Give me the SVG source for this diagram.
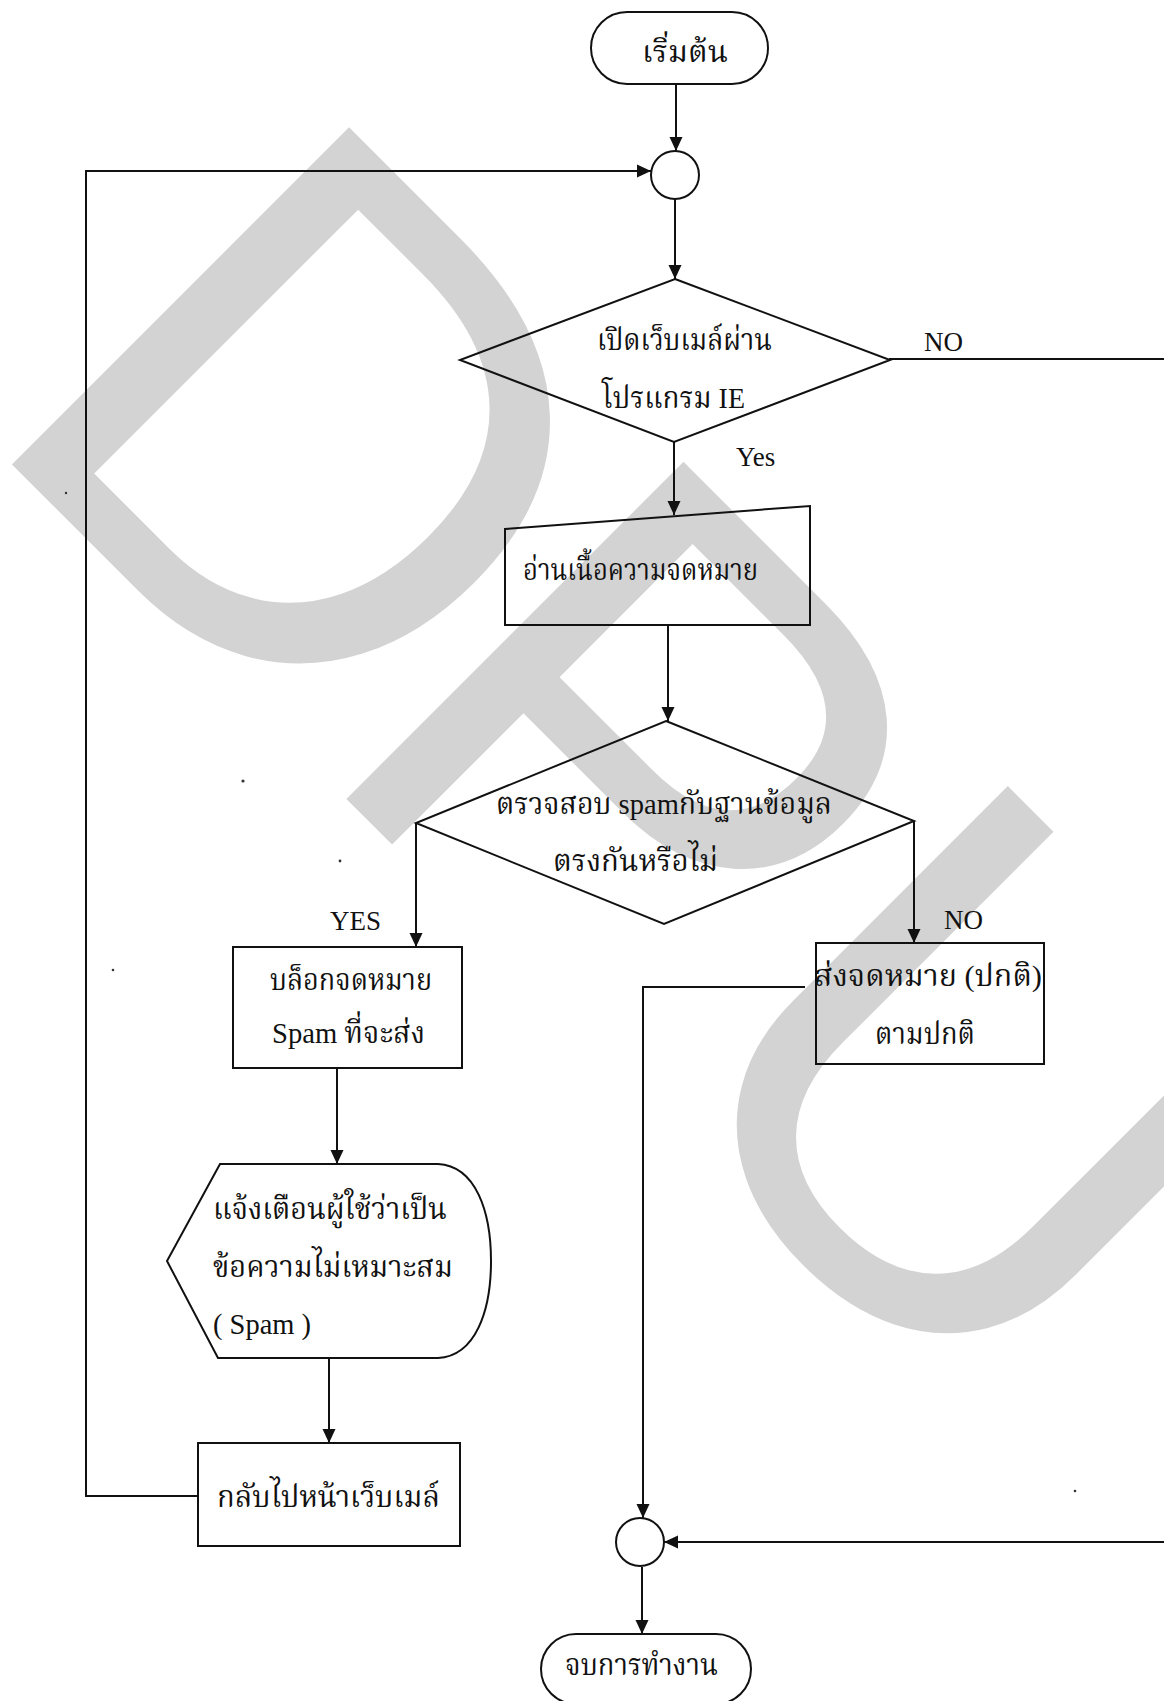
<svg xmlns="http://www.w3.org/2000/svg" width="1164" height="1701" viewBox="0 0 1164 1701">
  <defs>
    <marker id="arrow" markerUnits="userSpaceOnUse" markerWidth="14" markerHeight="14" refX="14" refY="7" orient="auto">
      <path d="M0,0.5 L14,7 L0,13.5 Z" fill="#111"/>
    </marker>
    <style>
      .shape { fill: none; stroke: #111; stroke-width: 2; }
      .link { fill: none; stroke: #111; stroke-width: 2; marker-end: url(#arrow); }
      .line { fill: none; stroke: #111; stroke-width: 2; }
      .th { font-family: "Liberation Serif", "Noto Serif Thai", "Noto Sans Thai", serif; font-size: 30px; fill: #111; }
      .lbl { font-family: "Liberation Serif", serif; font-size: 27px; fill: #111; }
      .speck { fill: #333; }
    </style>
  </defs>
  <rect width="1164" height="1701" fill="#fff"/>

  <!-- background watermark -->
  <g id="watermark">
    <text x="280 753 1215" y="320" transform="rotate(45)" font-family="Liberation Sans, Arial, sans-serif" font-size="693" fill="#d3d3d3">DPU</text>
  </g>

  <!-- stray specks -->
  <g id="specks">
    <circle class="speck" cx="243" cy="781" r="1.6"/>
    <circle class="speck" cx="340" cy="861" r="1.4"/>
    <circle class="speck" cx="113" cy="970" r="1.3"/>
    <circle class="speck" cx="66" cy="493" r="1.2"/>
    <circle class="speck" cx="1075" cy="1491" r="1.3"/>
  </g>

  <!-- connectors -->
  <g id="connectors">
    <path class="link" d="M676,84 L676,151"/>
    <path class="link" d="M675,199 L675,279"/>
    <path class="link" d="M674,442 L674,515"/>
    <path class="link" d="M668,625 L668,721"/>
    <path class="link" d="M416,823 L416,947"/>
    <path class="link" d="M914,821 L914,943"/>
    <path class="link" d="M337,1068 L337,1164"/>
    <path class="link" d="M329,1358 L329,1443"/>
    <path class="link" d="M197,1496 L86,1496 L86,171 L651,171"/>
    <path class="link" d="M805,987 L643,987 L643,1518"/>
    <path class="line" d="M889,359 L1164,359"/>
    <path class="link" d="M1164,1542 L664,1542"/>
    <path class="link" d="M642,1567 L642,1634"/>
    <text class="lbl" x="924" y="351">NO</text>
    <text class="lbl" x="736" y="466">Yes</text>
    <text class="lbl" x="330" y="930">YES</text>
    <text class="lbl" x="944" y="929">NO</text>
  </g>

  <g id="start">
    <rect class="shape" x="591" y="12" width="177" height="72" rx="36"/>
    <text class="th" x="642" y="62" textLength="86" lengthAdjust="spacingAndGlyphs">เริ่มต้น</text>
  </g>

  <g id="join-top">
    <circle class="shape" cx="675" cy="175" r="24"/>
  </g>

  <g id="check-browser">
    <path class="shape" d="M675,279 L890,360 L674,442 L460,360 Z"/>
    <text class="th" x="597" y="350" textLength="175" lengthAdjust="spacingAndGlyphs">เปิดเว็บเมล์ผ่าน</text>
    <text class="th" x="602" y="408" textLength="143" lengthAdjust="spacingAndGlyphs">โปรแกรม IE</text>
  </g>

  <g id="read-mail">
    <path class="shape" d="M505,529 L810,506 L810,625 L505,625 Z"/>
    <text class="th" x="523" y="580" textLength="235" lengthAdjust="spacingAndGlyphs">อ่านเนื้อความจดหมาย</text>
  </g>

  <g id="check-spam">
    <path class="shape" d="M666,721 L914,821 L664,924 L416,823 Z"/>
    <text class="th" x="496" y="814" textLength="336" lengthAdjust="spacingAndGlyphs">ตรวจสอบ spamกับฐานข้อมูล</text>
    <text class="th" x="553" y="871" textLength="165" lengthAdjust="spacingAndGlyphs">ตรงกันหรือไม่</text>
  </g>

  <g id="block-mail">
    <rect class="shape" x="233" y="947" width="229" height="121"/>
    <text class="th" x="270" y="990" textLength="162" lengthAdjust="spacingAndGlyphs">บล็อกจดหมาย</text>
    <text class="th" x="272" y="1043" textLength="153" lengthAdjust="spacingAndGlyphs">Spam ที่จะส่ง</text>
  </g>

  <g id="send-mail">
    <rect class="shape" x="816" y="943" width="228" height="121"/>
    <text class="th" x="814" y="986" textLength="228" lengthAdjust="spacingAndGlyphs">ส่งจดหมาย (ปกติ)</text>
    <text class="th" x="875" y="1044" textLength="100" lengthAdjust="spacingAndGlyphs">ตามปกติ</text>
  </g>

  <g id="warn-user">
    <path class="shape" d="M220,1164 L438,1164 C476,1166 491,1212 491,1261 C491,1310 476,1356 438,1358 L218,1358 L167,1261 Z"/>
    <text class="th" x="213" y="1219" textLength="234" lengthAdjust="spacingAndGlyphs">แจ้งเตือนผู้ใช้ว่าเป็น</text>
    <text class="th" x="213" y="1277" textLength="240" lengthAdjust="spacingAndGlyphs">ข้อความไม่เหมาะสม</text>
    <text class="th" x="213" y="1334" textLength="98" lengthAdjust="spacingAndGlyphs">( Spam )</text>
  </g>

  <g id="back-to-webmail">
    <rect class="shape" x="198" y="1443" width="262" height="103"/>
    <text class="th" x="217" y="1507" textLength="223" lengthAdjust="spacingAndGlyphs">กลับไปหน้าเว็บเมล์</text>
  </g>

  <g id="join-bottom">
    <circle class="shape" cx="640" cy="1542" r="24"/>
  </g>

  <g id="end">
    <rect class="shape" x="541" y="1634" width="210" height="70" rx="35"/>
    <text class="th" x="565" y="1675" textLength="153" lengthAdjust="spacingAndGlyphs">จบการทำงาน</text>
  </g>
</svg>
